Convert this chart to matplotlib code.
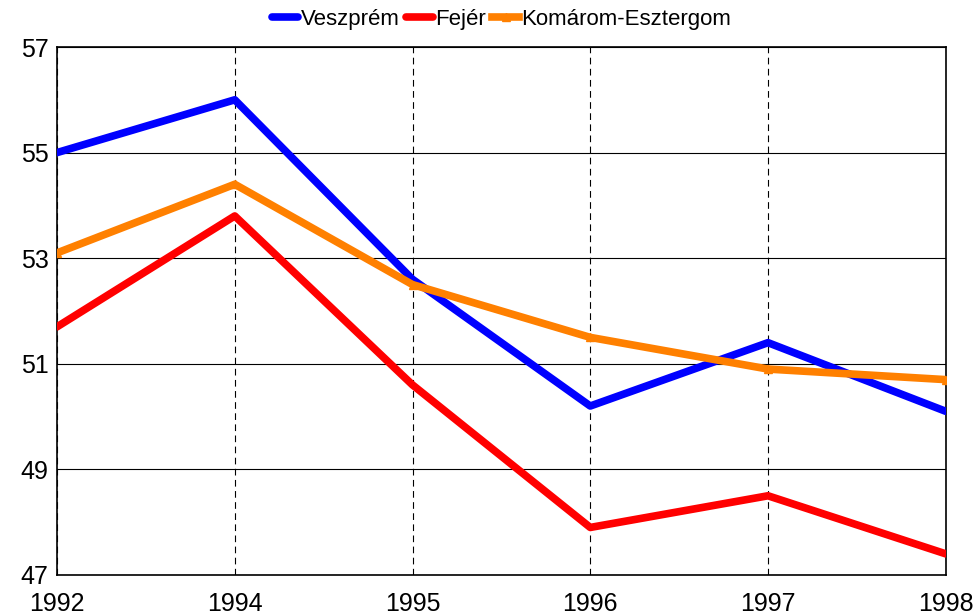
import matplotlib
matplotlib.use('Agg')
import matplotlib.pyplot as plt

# data
years = ['1992', '1994', '1995', '1996', '1997', '1998']
veszprem = [55.0, 56.0, 52.6, 50.2, 51.4, 50.1]
fejer = [51.7, 53.8, 50.6, 47.9, 48.5, 47.4]
komarom = [53.1, 54.4, 52.5, 51.5, 50.9, 50.7]

plt.rcParams['font.family'] = ['Liberation Sans', 'DejaVu Sans']

fig = plt.figure(figsize=(9.78, 6.16), dpi=100)
ax = fig.add_axes([0.0583, 0.0666, 0.9087, 0.8571])

x = range(len(years))
ax.plot(x, veszprem, color='#0000ff', lw=5.5, solid_capstyle='round', label='Veszprém', zorder=3)
ax.plot(x, fejer, color='#ff0000', lw=5.5, solid_capstyle='round', label='Fejér', zorder=3)
ax.plot(x, komarom, color='#ff8000', lw=5.5, marker='^', markersize=6, label='Komárom-Esztergom', zorder=3)

ax.set_xlim(0, len(years) - 1)
ax.set_ylim(47, 57)
ax.set_xticks(list(x))
ax.set_xticklabels(years)
ax.set_yticks(range(47, 58, 2))

ax.grid(axis='y', color='black', lw=0.8, ls='-')
ax.grid(axis='x', color='black', lw=0.8, ls=(0, (6, 4)))
ax.set_axisbelow(True)
for s in ax.spines.values():
    s.set_linewidth(1.2)

ax.tick_params(axis='both', length=0, labelsize=18)
ax.tick_params(axis='x', pad=12)
ax.tick_params(axis='y', pad=6)

ax.legend(loc='lower center', bbox_to_anchor=(0.5, 1.016), ncol=3, frameon=False,
          fontsize=16, handlelength=1.2, handletextpad=0.1, columnspacing=0.3,
          borderaxespad=0)

fig.savefig('out.png', dpi=100)
